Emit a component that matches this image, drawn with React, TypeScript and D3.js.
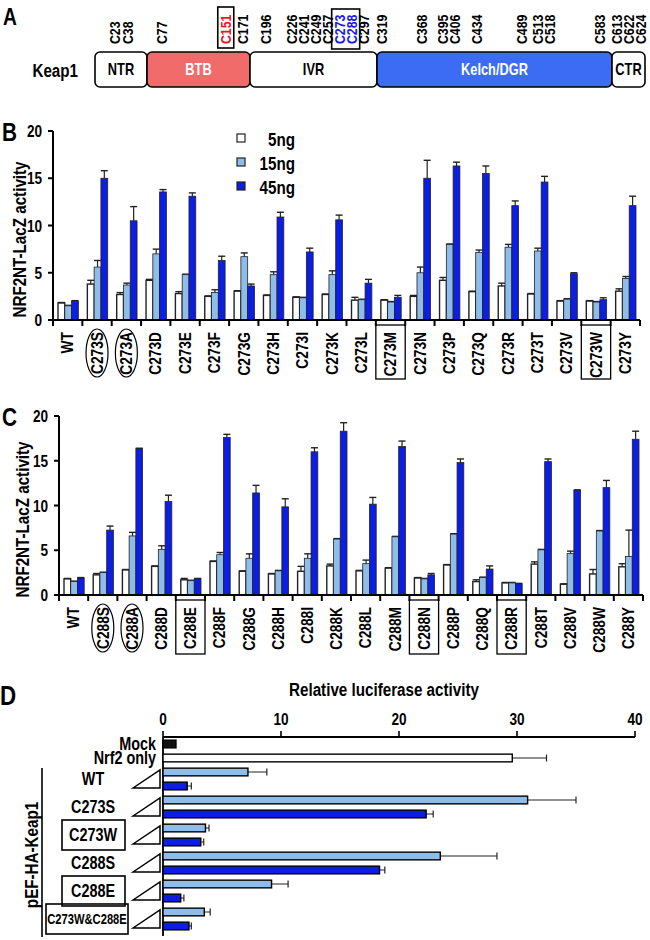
import React from "react";
import * as d3 from "d3";

const SANS = "'Liberation Sans',Arial,sans-serif";

const WHITE = "#ffffff";
const LIGHT = "#8fbde9";
const DARK = "#0c1ee2";

// ---- panel A: Keap1 domains and cysteines
const domainNames = ["NTR", "BTB", "IVR", "Kelch/DGR", "CTR"];
const domainBounds = [1, 60, 179, 314, 598, 624];
const domainFill = ["#ffffff", "#f26b6b", "#ffffff", "#3c6cf4", "#ffffff"];
const cysteines = [23, 38, 77, 151, 171, 196, 226, 241, 249, 257, 273, 288, 297, 319, 368, 395, 406, 434, 489, 513, 518, 583, 613, 622, 624];
const redCys = [151];
const blueCys = [273, 288];

// ---- panels B / C: NRF2NT-LacZ activity
const doses = ["5ng", "15ng", "45ng"];
const doseFill = [WHITE, LIGHT, DARK];

const mutB = ["WT", "C273S", "C273A", "C273D", "C273E", "C273F", "C273G", "C273H", "C273I", "C273K", "C273L", "C273M", "C273N", "C273P", "C273Q", "C273R", "C273T", "C273V", "C273W", "C273Y"];
const b5 = [1.8, 3.8, 2.7, 4.2, 2.8, 2.5, 3.05, 2.6, 2.4, 2.7, 2.1, 2.1, 2.5, 4.2, 3.0, 3.6, 2.75, 2.0, 2.0, 3.05];
const b5err = [0.05, 0.4, 0.2, 0.1, 0.2, 0.05, 0.05, 0.05, 0.05, 0.05, 0.3, 0.05, 0.1, 0.3, 0.05, 0.3, 0.05, 0.05, 0.05, 0.25];
const b15 = [1.5, 5.6, 3.7, 7.0, 4.8, 2.9, 6.7, 4.8, 2.35, 4.8, 2.15, 1.9, 5.0, 8.0, 7.15, 7.7, 7.3, 2.2, 1.9, 4.4];
const b15err = [0.05, 0.7, 0.2, 0.5, 0.05, 0.3, 0.4, 0.3, 0.05, 0.4, 0.05, 0.05, 0.6, 0.05, 0.25, 0.3, 0.3, 0.05, 0.05, 0.2];
const b45 = [2.0, 15.0, 10.5, 13.55, 13.1, 6.3, 3.6, 10.9, 7.2, 10.6, 3.9, 2.4, 15.0, 16.3, 15.5, 12.1, 14.6, 4.9, 2.15, 12.1];
const b45err = [0.05, 0.8, 1.5, 0.25, 0.35, 0.45, 0.2, 0.5, 0.4, 0.5, 0.4, 0.2, 1.9, 0.4, 0.8, 0.5, 0.6, 0.1, 0.2, 1.0];
const circledB = ["C273S", "C273A"];
const boxedB = ["C273M", "C273W"];

const mutC = ["WT", "C288S", "C288A", "C288D", "C288E", "C288F", "C288G", "C288H", "C288I", "C288K", "C288L", "C288M", "C288N", "C288P", "C288Q", "C288R", "C288T", "C288V", "C288W", "C288Y"];
const c5 = [1.8, 2.25, 2.8, 3.2, 1.7, 3.75, 2.65, 2.35, 2.65, 3.25, 2.7, 3.0, 1.9, 3.35, 1.5, 1.35, 3.45, 1.2, 2.35, 3.15];
const c5err = [0.05, 0.15, 0.05, 0.05, 0.15, 0.05, 0.05, 0.05, 0.55, 0.2, 0.05, 0.05, 0.05, 0.05, 0.2, 0.05, 0.25, 0.05, 0.5, 0.35];
const c15 = [1.5, 2.5, 6.6, 5.1, 1.6, 4.5, 4.1, 2.7, 4.1, 6.25, 3.5, 6.5, 1.8, 6.8, 1.95, 1.35, 5.05, 4.65, 7.15, 4.3];
const c15err = [0.05, 0.05, 0.4, 0.4, 0.05, 0.25, 0.5, 0.05, 0.5, 0.05, 0.4, 0.05, 0.05, 0.05, 0.05, 0.05, 0.05, 0.25, 0.05, 2.95];
const c45 = [1.9, 7.25, 16.35, 10.45, 1.8, 17.6, 11.4, 9.85, 16.0, 18.3, 10.15, 16.6, 2.25, 14.8, 2.9, 1.25, 14.9, 11.7, 12.0, 17.4];
const c45err = [0.05, 0.45, 0.05, 0.7, 0.05, 0.35, 0.85, 0.9, 0.45, 0.95, 0.75, 0.6, 0.15, 0.4, 0.35, 0.05, 0.3, 0.05, 0.8, 0.9];
const circledC = ["C288S", "C288A"];
const boxedC = ["C288E", "C288N", "C288R"];

const yTicksBC = [0, 5, 10, 15, 20];

// ---- panel D: relative luciferase activity
const ctrlNames = ["Mock", "Nrf2 only"];
const ctrlVals = [1.1, 29.6];
const ctrlErr = [0, 2.9];
const ctrlFill = ["#111111", WHITE];
const dGroups = ["WT", "C273S", "C273W", "C288S", "C288E", "C273W&C288E"];
const dLow = [7.2, 30.9, 3.6, 23.5, 9.2, 3.5];
const dLowErr = [1.6, 4.1, 0.3, 4.8, 1.4, 0.5];
const dHigh = [2.05, 22.3, 3.2, 18.35, 1.5, 2.2];
const dHighErr = [0.35, 0.6, 0.25, 0.45, 0.27, 0.2];
const dBoxed = ["C273W", "C288E", "C273W&C288E"];
const xTicksD = [0, 10, 20, 30, 40];

// condensed bold text: Liberation Sans squeezed horizontally
function T({ x, y, rot = 0, anchor = "start", size, fill = "#000", sx = 0.8, children }) {
  return (
    <text transform={`translate(${x},${y}) rotate(${rot}) scale(${sx},1)`} textAnchor={anchor} dy="0.36em"
      fontFamily={SANS} fontWeight="bold" fontSize={size} fill={fill}>{children}</text>
  );
}

function DosePanel({ letter, cats, series, errs, circled, boxed, x0, x1, yBase, yTop, titleX, legend }) {
  const x = d3.scaleBand().domain(cats).range([x0, x1]);
  const bw = x.bandwidth();
  const sub = d3.scaleBand().domain(doses).range([5, bw - 4]);
  const y = d3.scaleLinear().domain([0, 20]).range([yBase, yTop]);
  const labelTop = yBase + 12;
  return (
    <g>
      <T x={2} y={yTop + 1} size={26}>{letter}</T>
      <T x={titleX} y={(yBase + yTop) / 2 + 14} rot={-90} anchor="middle" size={19}>NRF2NT-LacZ activity</T>
      {cats.map((c, i) => (
        <g key={c} transform={`translate(${x(c)},0)`}>
          {doses.map((d, j) => {
            const v = series[j][i];
            const e = errs[j][i];
            const cx = sub(d) + sub.bandwidth() / 2;
            return (
              <g key={d}>
                <line x1={cx} x2={cx} y1={y(v)} y2={y(v + e)} stroke="#222" strokeWidth={1.2} />
                <line x1={cx - 3.5} x2={cx + 3.5} y1={y(v + e)} y2={y(v + e)} stroke="#222" strokeWidth={1.4} />
                <rect x={sub(d)} y={y(v)} width={sub.bandwidth()} height={yBase - y(v)}
                  fill={doseFill[j]} stroke="#222" strokeWidth={j === 0 ? 1.4 : 0.8} />
              </g>
            );
          })}
        </g>
      ))}
      {/* axes */}
      <line x1={x0} x2={x0} y1={yBase} y2={yTop} stroke="#000" strokeWidth={2} />
      <line x1={x0} x2={x1} y1={yBase} y2={yBase} stroke="#000" strokeWidth={2} />
      {yTicksBC.map(t => (
        <g key={t}>
          <line x1={x0 - 5} x2={x0} y1={y(t)} y2={y(t)} stroke="#000" strokeWidth={2} />
          <T x={x0 - 11} y={y(t)} anchor="end" size={17}>{t}</T>
        </g>
      ))}
      {cats.concat(["__end"]).map((c, i) => {
        const tx = c === "__end" ? x1 : x(c);
        return <line key={"t" + i} x1={tx} x2={tx} y1={yBase} y2={yBase + 6} stroke="#000" strokeWidth={2} />;
      })}
      {cats.map(c => {
        const cx = x(c) + bw / 2;
        return (
          <g key={"l" + c}>
            {circled.includes(c) && <ellipse cx={cx} cy={labelTop + 21} rx={11} ry={24} fill="none" stroke="#000" strokeWidth={1.2} />}
            {boxed.includes(c) && <rect x={x(c)} y={yBase + 5} width={bw} height={54} fill="none" stroke="#000" strokeWidth={1.3} />}
            <T x={cx} y={labelTop} rot={-90} anchor="end" size={16} sx={0.86}>{c}</T>
          </g>
        );
      })}
      {legend && doses.map((d, j) => (
        <g key={"lg" + d} transform={`translate(237,${legend + j * 24})`}>
          <rect x={0} y={-4} width={8} height={8} fill={doseFill[j]} stroke="#222" strokeWidth={1.2} />
          <T x={58} y={1} anchor="end" size={19}>{d}</T>
        </g>
      ))}
    </g>
  );
}

function PanelA() {
  const xA = d3.scaleLinear().domain(domainBounds).range([95, 147, 250, 377, 612, 645]);
  // spread cysteine labels so that they don't collide
  const gap = 12;
  const pos = cysteines.map(c => xA(c));
  for (let it = 0; it < 300; it++) {
    for (let i = 1; i < pos.length; i++) {
      const d = pos[i] - pos[i - 1];
      if (d < gap) {
        const s = (gap - d) / 2;
        pos[i - 1] -= s;
        pos[i] += s;
      }
    }
    pos[pos.length - 1] = Math.min(pos[pos.length - 1], 641);
  }
  const i273 = cysteines.indexOf(blueCys[0]);
  const i288 = cysteines.indexOf(blueCys[1]);
  const i151 = cysteines.indexOf(redCys[0]);
  return (
    <g>
      <T x={3} y={16} size={24}>A</T>
      <T x={78} y={70} anchor="end" size={19}>Keap1</T>
      {domainNames.map((n, i) => {
        const a = xA(domainBounds[i]);
        const b = xA(domainBounds[i + 1]);
        const colored = domainFill[i] !== "#ffffff";
        return (
          <g key={n}>
            <rect x={a} y={52} width={b - a} height={35} rx={5} fill={domainFill[i]} stroke="#000" strokeWidth={1.6} />
            <T x={(a + b) / 2} y={69} anchor="middle" fill={colored ? "#fff" : "#000"} size={16}>{n}</T>
          </g>
        );
      })}
      <rect x={pos[i151] - 8} y={7} width={16} height={41} fill="none" stroke="#000" strokeWidth={1.6} />
      <rect x={pos[i273] - 8} y={9} width={pos[i288] - pos[i273] + 16} height={40} fill="none" stroke="#000" strokeWidth={1.6} />
      {cysteines.map((c, i) => (
        <T key={c} x={pos[i]} y={44} rot={-90} size={15} sx={0.82}
          fill={redCys.includes(c) ? "#e8171d" : blueCys.includes(c) ? "#1a1ae6" : "#000"}>{"C" + c}</T>
      ))}
    </g>
  );
}

function PanelD() {
  const rowKeys = [...ctrlNames];
  dGroups.forEach(g => { rowKeys.push(g + ":lo"); rowKeys.push(g + ":hi"); });
  const y = d3.scaleBand().domain(rowKeys).range([737, 933]).paddingInner(0.45).paddingOuter(0.225);
  const x = d3.scaleLinear().domain([0, 40]).range([163, 635]);
  const bh = y.bandwidth();
  const rows = [];
  ctrlNames.forEach((n, i) => rows.push({ k: n, v: ctrlVals[i], e: ctrlErr[i], fill: ctrlFill[i] }));
  dGroups.forEach((g, i) => {
    rows.push({ k: g + ":lo", v: dLow[i], e: dLowErr[i], fill: LIGHT });
    rows.push({ k: g + ":hi", v: dHigh[i], e: dHighErr[i], fill: DARK });
  });
  return (
    <g>
      <T x={0} y={695} size={28}>D</T>
      <T x={384} y={689} anchor="middle" size={19}>Relative luciferase activity</T>
      {xTicksD.map(t => (
        <g key={t}>
          <line x1={x(t)} x2={x(t)} y1={737} y2={731} stroke="#000" strokeWidth={1.6} />
          <T x={x(t)} y={719} anchor="middle" size={17}>{t}</T>
        </g>
      ))}
      <line x1={x(0)} x2={x(40)} y1={737} y2={737} stroke="#000" strokeWidth={1.8} />
      <line x1={x(0)} x2={x(0)} y1={737} y2={936} stroke="#000" strokeWidth={1.8} />
      {rows.map(r => {
        const cy = y(r.k) + bh / 2;
        return (
          <g key={r.k}>
            {r.e > 0 && (
              <g>
                <line x1={x(r.v)} x2={x(r.v + r.e)} y1={cy} y2={cy} stroke="#222" strokeWidth={1} />
                <line x1={x(r.v + r.e)} x2={x(r.v + r.e)} y1={cy - 3.5} y2={cy + 3.5} stroke="#222" strokeWidth={1.2} />
              </g>
            )}
            <rect x={x(0)} y={y(r.k)} width={x(r.v) - x(0)} height={bh} fill={r.fill} stroke="#000" strokeWidth={1.4} />
          </g>
        );
      })}
      {ctrlNames.map(n => (
        <T key={n} x={156} y={y(n) + bh / 2} anchor="end" size={18}>{n}</T>
      ))}
      {dGroups.map(g => {
        const cy = (y(g + ":lo") + y(g + ":hi") + bh) / 2;
        const isBoxed = dBoxed.includes(g);
        const small = g.length > 6;
        return (
          <g key={g}>
            {isBoxed && <rect x={small ? 46 : 62} y={cy - 15} width={small ? 82 : 63} height={30} fill="none" stroke="#000" strokeWidth={1.6} />}
            <T x={small ? 87 : 93} y={cy} anchor="middle" size={small ? 14 : 18}>{g}</T>
            <path d={`M133,${cy + 9}L160,${cy - 9}L160,${cy + 9}Z`} fill="#fff" stroke="#000" strokeWidth={1.5} />
          </g>
        );
      })}
      <line x1={42} x2={42} y1={768} y2={937} stroke="#000" strokeWidth={1.6} />
      <T x={31} y={855} rot={-90} anchor="middle" size={19}>pEF-HA-Keap1</T>
    </g>
  );
}

export default function App() {
  return (
    <svg width={650} height={940} style={{ position: "absolute", left: 0, top: 0, background: "#fff" }}>
      <PanelA />
      <DosePanel letter="B" cats={mutB} series={[b5, b15, b45]} errs={[b5err, b15err, b45err]}
        circled={circledB} boxed={boxedB} x0={53} x1={640} yBase={320} yTop={131} titleX={19} legend={138} />
      <DosePanel letter="C" cats={mutC} series={[c5, c15, c45]} errs={[c5err, c15err, c45err]}
        circled={circledC} boxed={boxedC} x0={59} x1={643} yBase={595} yTop={416} titleX={22} legend={0} />
      <PanelD />
    </svg>
  );
}
